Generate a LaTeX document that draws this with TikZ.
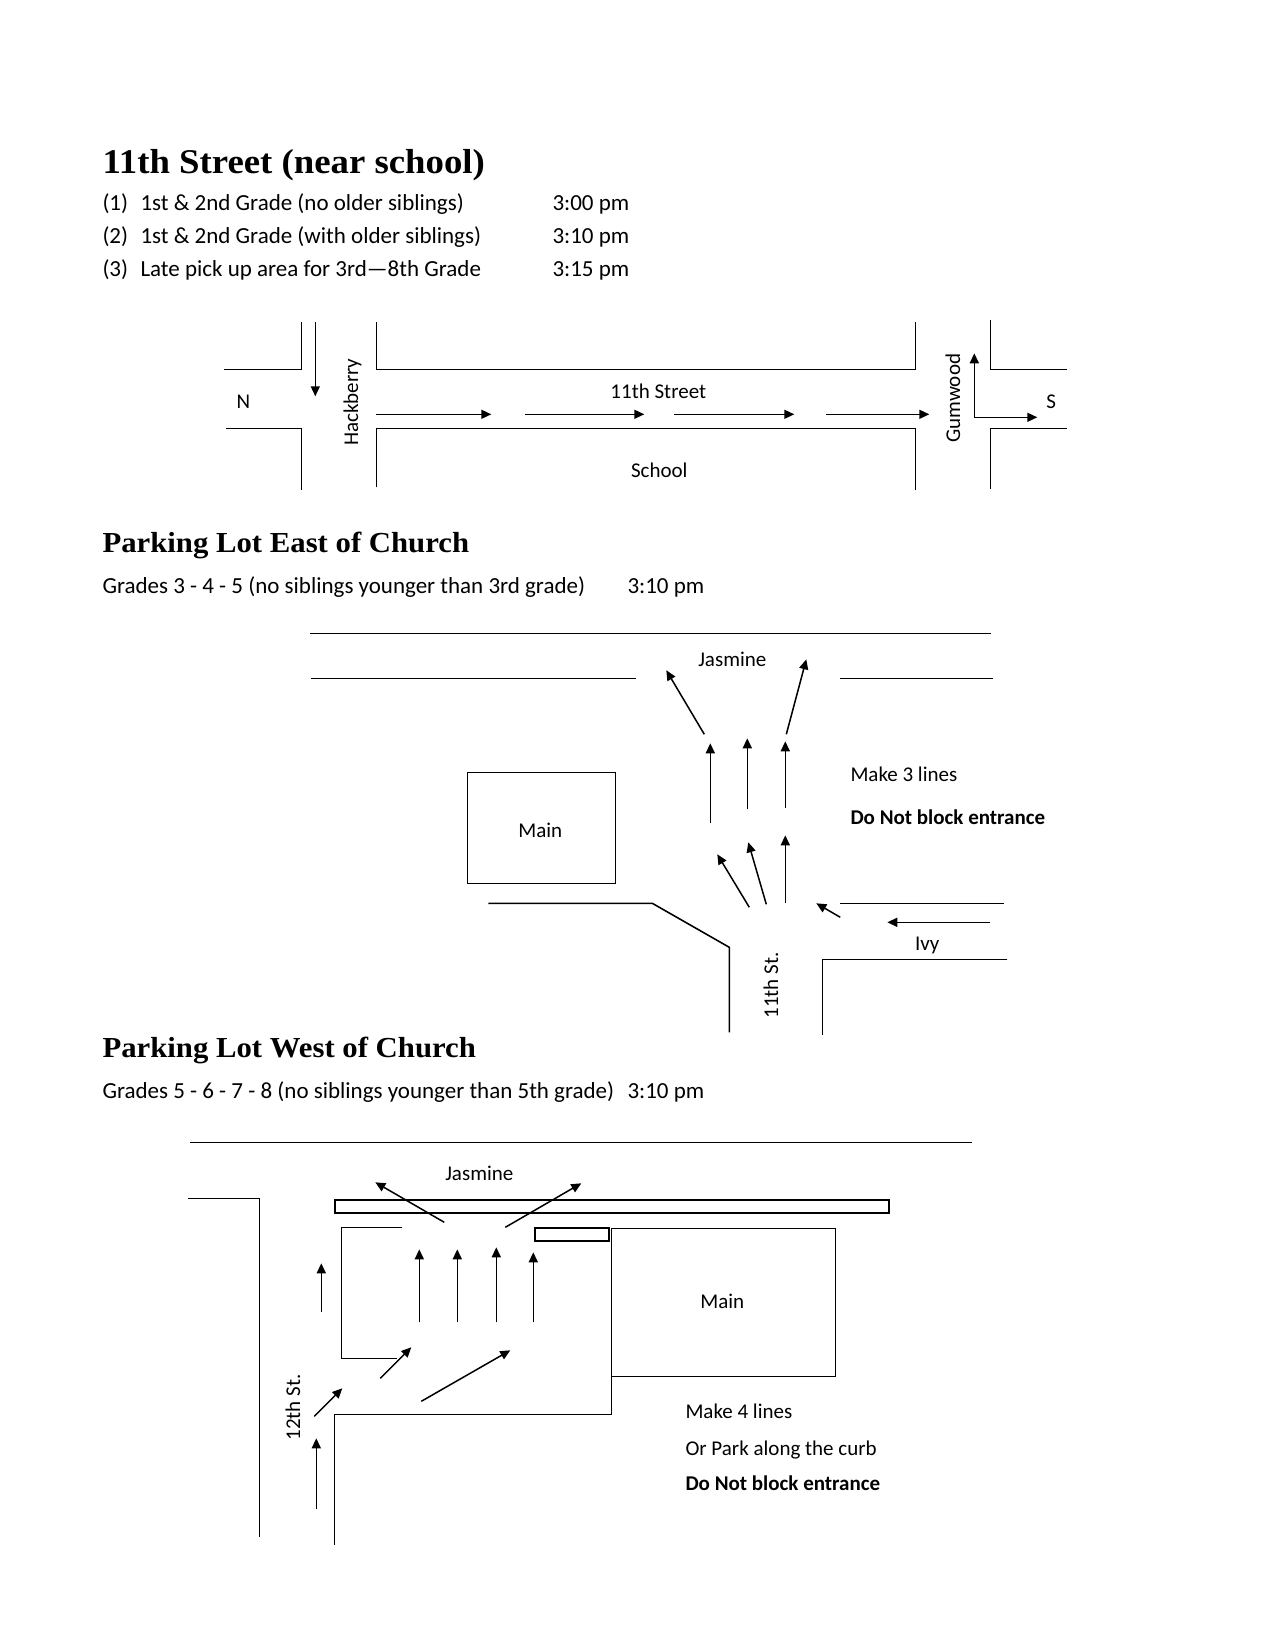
\documentclass[tikz,border=0pt]{standalone}
\usepackage{fontspec}
\setmainfont{Carlito}
\newfontfamily\headfont[FakeStretch=1.06]{Liberation Serif}
\usetikzlibrary{arrows.meta}
\tikzset{
  road/.style={line width=1.6pt,line join=miter},
  thin road/.style={line width=1.6pt},
  bar/.style={line width=2.2pt},
  arrowline/.style={line width=1.5pt,-{Triangle[length=10pt,width=9pt]}},
  pagetext/.style={font=\fontsize{23}{26}\selectfont,inner sep=0pt,anchor=mid west,yshift=-5.5pt},
  label/.style={font=\fontsize{21}{25}\selectfont,inner sep=0pt,anchor=mid,yshift=-5pt},
  labelup/.style={font=\fontsize{21}{25}\selectfont,inner sep=0pt,anchor=mid,rotate=90,yshift=-4.5pt},
  labell/.style={label,anchor=mid west},
  strong/.style={labell,font=\fontsize{21}{25}\selectfont\bfseries},
  head/.style={font=\fontsize{29}{33}\selectfont\headfont\bfseries,inner sep=0pt,anchor=mid west,yshift=-8pt},
  bighead/.style={head,font=\fontsize{34.7}{39}\selectfont\headfont\bfseries,yshift=-2pt},
}
\begin{document}
\begin{tikzpicture}[x=1pt,y=-1pt]
\useasboundingbox (0,0) rectangle (1275,1650);
\begin{scope}[xshift=0.3pt,yshift=-0.3pt]
% ---------- Section 1
\node[bighead] (h1) at (102,161) {11th Street (near school)};
\node[pagetext] (l1a) at (102,202) {(1)};
\node[pagetext] (l1b) at (140,202) {1st \& 2nd Grade (no older siblings)};
\node[pagetext] (l1c) at (552,202) {3:00 pm};
\node[pagetext] (l2a) at (102,235) {(2)};
\node[pagetext] (l2b) at (140,235) {1st \& 2nd Grade (with older siblings)};
\node[pagetext] (l2c) at (552,235) {3:10 pm};
\node[pagetext] (l3a) at (102,268) {(3)};
\node[pagetext] (l3b) at (140,268) {Late pick up area for 3rd—8th Grade};
\node[pagetext] (l3c) at (552,268) {3:15 pm};
\draw[road] (224,369) -- (301,369) -- (301,322);
\draw[road] (226,428) -- (301,428) -- (301,490);
\draw[road] (376,322) -- (376,369) -- (915,369) -- (915,322);
\draw[road] (376,487) -- (376,428) -- (915,428) -- (915,490);
\draw[road] (990,320) -- (990,369) -- (1067,369);
\draw[road] (990,489) -- (990,428) -- (1067,428);
\draw[arrowline] (315,322) -- (315,396);
\draw[arrowline] (376,414) -- (491,414);
\draw[arrowline] (525,414) -- (644,414);
\draw[arrowline] (674,414) -- (794,414);
\draw[arrowline] (826,414) -- (929,414);
\draw[arrowline] (974,417) -- (974,353);
\draw[arrowline] (974,417) -- (1037,417);
\node[label] (n) at (243,401) {N};
\node[label] (s) at (1051,401) {S};
\node[labelup] (hack) at (351,402) {Hackberry};
\node[labelup] (gum) at (953,398) {Gumwood};
\node[label] (st11) at (658,391) {11th Street};
\node[label] (school) at (659,470) {School};
% ---------- Section 2
\node[head] (h2) at (102,542) {Parking Lot East of Church};
\node[pagetext] (g2) at (102,585) {Grades 3 - 4 - 5 (no siblings younger than 3rd grade)};
\node[pagetext] (t2) at (627,585) {3:10 pm};
\draw[thin road] (310,633) -- (991,633);
\draw[thin road] (311,678) -- (636,678);
\draw[thin road] (840,678) -- (993,678);
\node[label] (jas1) at (732,659) {Jasmine};
\draw[arrowline] (704,734) -- (666,670);
\draw[arrowline] (786,734) -- (806,659);
\draw[arrowline] (710,823) -- (710,743);
\draw[arrowline] (747,809) -- (747,738);
\draw[arrowline] (785,808) -- (785,741);
\draw[arrowline] (749,907) -- (717,854);
\draw[arrowline] (766,904) -- (748,842);
\draw[arrowline] (785,903) -- (785,835);
\draw[arrowline] (840,917) -- (816,903);
\draw[arrowline] (990,922) -- (887,922);
\draw[thin road] (840,903) -- (1004,903);
\draw[thin road] (1007,959) -- (822,959) -- (822,1035);
\draw[thin road] (488,903) -- (652,903) -- (729,947) -- (729,1032);
\draw[thin road] (467,772) rectangle (615,883);
\node[label] (main1) at (540,830) {Main};
\node[label] (ivy) at (927,943) {Ivy};
\node[labelup] (st11b) at (771,985) {11th St.};
\node[labell] (mk3) at (850,774) {Make 3 lines};
\node[strong] (dn1) at (850,817) {Do Not block entrance};
% ---------- Section 3
\node[head] (h3) at (102,1047) {Parking Lot West of Church};
\node[pagetext] (g3) at (102,1090) {Grades 5 - 6 - 7 - 8 (no siblings younger than 5th grade)};
\node[pagetext] (t3) at (627,1090) {3:10 pm};
\draw[thin road] (190,1142) -- (972,1142);
\node[label] (jas2) at (479,1173) {Jasmine};
\draw[thin road] (188,1198) -- (259,1198) -- (259,1537);
\draw[bar] (335,1200) rectangle (889,1213);
\draw[arrowline] (444,1222) -- (375,1182);
\draw[arrowline] (505,1227) -- (581,1183);
\draw[road] (402,1227) -- (341,1227) -- (341,1358) -- (397,1358);
\draw[bar] (535,1228) rectangle (609,1241);
\draw[thin road] (611,1228) -- (835,1228) -- (835,1376) -- (611,1376) -- cycle;
\draw[road] (611,1376) -- (611,1414) -- (334,1414) -- (334,1545);
\draw[arrowline] (419,1322) -- (419,1249);
\draw[arrowline] (457,1322) -- (457,1249);
\draw[arrowline] (496,1322) -- (496,1247);
\draw[arrowline] (533,1322) -- (533,1252);
\draw[arrowline] (321,1312) -- (321,1263);
\draw[arrowline] (380,1378) -- (411,1347);
\draw[arrowline] (421,1401) -- (510,1350);
\draw[arrowline] (314,1416) -- (342,1388);
\draw[arrowline] (316,1509) -- (316,1438);
\node[labelup] (st12) at (293,1407) {12th St.};
\node[label] (main2) at (722,1301) {Main};
\node[labell] (mk4) at (685,1411) {Make 4 lines};
\node[labell] (orp) at (685,1448) {Or Park along the curb};
\node[strong] (dn2) at (685,1483) {Do Not block entrance};
\end{scope}
\end{tikzpicture}
\end{document}
